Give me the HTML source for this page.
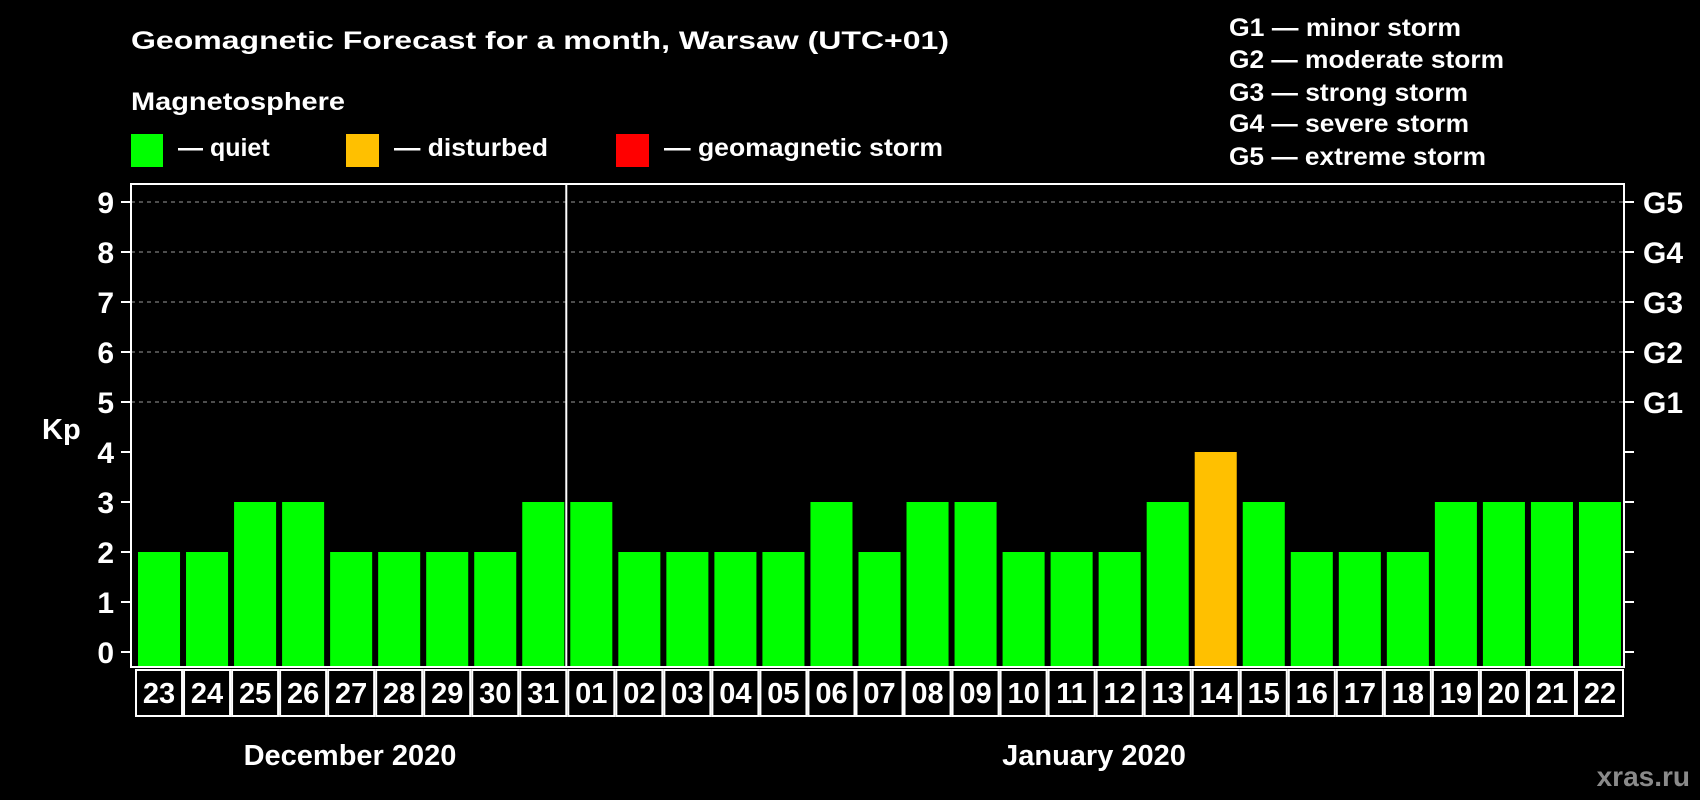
<!DOCTYPE html>
<html><head><meta charset="utf-8"><style>
html,body{margin:0;padding:0;background:#000;}
svg{display:block;font-family:"Liberation Sans",Arial,sans-serif;font-weight:bold;}
</style></head><body>
<svg id="chart" width="1700" height="800" viewBox="0 0 1700 800" xmlns="http://www.w3.org/2000/svg">
<rect x="0" y="0" width="1700" height="800" fill="#000"/>
<text x="131" y="49" fill="#fff" font-size="25" textLength="818" lengthAdjust="spacingAndGlyphs">Geomagnetic Forecast for a month, Warsaw (UTC+01)</text>
<text x="131" y="110" fill="#fff" font-size="25" textLength="214" lengthAdjust="spacingAndGlyphs">Magnetosphere</text>
<rect x="131" y="134" width="32" height="33" fill="#00ff00"/>
<text x="178" y="156" fill="#fff" font-size="25">— quiet</text>
<rect x="346" y="134" width="33" height="33" fill="#ffc000"/>
<text x="394" y="156" fill="#fff" font-size="25" textLength="154" lengthAdjust="spacingAndGlyphs">— disturbed</text>
<rect x="616" y="134" width="33" height="33" fill="#ff0000"/>
<text x="664" y="156" fill="#fff" font-size="25" textLength="279" lengthAdjust="spacingAndGlyphs">— geomagnetic storm</text>
<g fill="#fff" font-size="25">
<text x="1229" y="36" textLength="232" lengthAdjust="spacingAndGlyphs">G1 — minor storm</text>
<text x="1229" y="68" textLength="275" lengthAdjust="spacingAndGlyphs">G2 — moderate storm</text>
<text x="1229" y="101" textLength="239" lengthAdjust="spacingAndGlyphs">G3 — strong storm</text>
<text x="1229" y="132" textLength="240" lengthAdjust="spacingAndGlyphs">G4 — severe storm</text>
<text x="1229" y="165" textLength="257" lengthAdjust="spacingAndGlyphs">G5 — extreme storm</text>
</g>
<text x="42" y="439" fill="#fff" font-size="29">Kp</text>
<g id="plot"></g>
<text x="350" y="765" fill="#fff" font-size="29" text-anchor="middle">December 2020</text>
<text x="1094" y="765" fill="#fff" font-size="29" text-anchor="middle">January 2020</text>
<text x="1690" y="786" fill="#8a8a8a" font-size="28" text-anchor="end">xras.ru</text>
</svg>
<script>
const days = ["23","24","25","26","27","28","29","30","31","01","02","03","04","05","06","07","08","09","10","11","12","13","14","15","16","17","18","19","20","21","22"];
const kpValues = [2,2,3,3,2,2,2,2,3,3,2,2,2,2,3,2,3,3,2,2,2,3,4,3,2,2,2,3,3,3,3];
const yTicks = [0,1,2,3,4,5,6,7,8,9];
const gLabels = ["G1","G2","G3","G4","G5"];
const gLevels = [5,6,7,8,9];
const monthBreakIndex = 9;

const NS = "http://www.w3.org/2000/svg";
const plot = document.getElementById('plot');
const L = 131, R = 1624, T = 184, B = 667;
const slotX0 = 135, slot = (R - slotX0) / days.length;
function y(v){ return 652 - 50 * v; }
function x(i){ return slotX0 + i * slot; }
function mk(tag, attrs){ const e = document.createElementNS(NS, tag); for (const k in attrs) e.setAttribute(k, attrs[k]); plot.appendChild(e); return e; }
function color(v){ return v >= 5 ? '#ff0000' : (v >= 4 ? '#ffc000' : '#00ff00'); }

gLevels.forEach(v => {
  const g = mk('line', {x1:L, x2:R, y1:y(v), y2:y(v), stroke:'#9a9a9a', 'stroke-width':1, 'stroke-dasharray':'4,4'});
  
  
});
kpValues.forEach((v, i) => {
  const r = mk('rect', {x:x(i)+3, y:y(v), width:slot-6, height:B - y(v), fill:color(v)});
  
  
});
const fr = mk('rect', {x:L, y:T, width:R-L, height:B-T, fill:'none', stroke:'#fff', 'stroke-width':2});


const dv = mk('line', {x1:x(monthBreakIndex)-1, x2:x(monthBreakIndex)-1, y1:T, y2:B, stroke:'#fff', 'stroke-width':2});


yTicks.forEach(v => {
  mk('line', {x1:121, x2:L, y1:y(v), y2:y(v), stroke:'#fff', 'stroke-width':2});
  mk('line', {x1:R, x2:R+10, y1:y(v), y2:y(v), stroke:'#fff', 'stroke-width':2});
  const t = mk('text', {x:114, y:y(v)+11, fill:'#fff', 'font-size':30, 'text-anchor':'end'});
  t.textContent = v;
  
  
});
gLabels.forEach((g, i) => {
  const t = mk('text', {x:1643, y:y(gLevels[i])+11, fill:'#fff', 'font-size':30});
  t.textContent = g;
  
  
});
days.forEach((d, i) => {
  const b = mk('rect', {x:x(i)+1, y:670, width:slot-2, height:46, fill:'none', stroke:'#fff', 'stroke-width':2});
  
  
  const t = mk('text', {x:x(i)+slot/2, y:703, fill:'#fff', 'font-size':29, 'text-anchor':'middle'});
  t.textContent = d;
  
  
});
</script>
</body></html>
